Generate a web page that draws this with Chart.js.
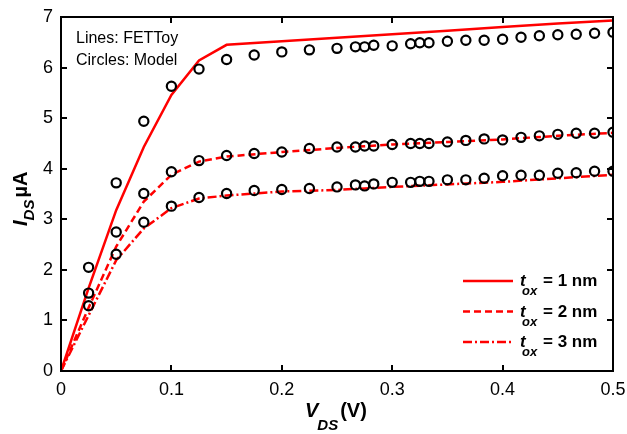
<!DOCTYPE html>
<html>
<head>
<meta charset="utf-8">
<script src="https://cdn.jsdelivr.net/npm/chart.js@4.4.1/dist/chart.umd.min.js"></script>
<style>
    html, body { margin: 0; padding: 0; background: #fff; }
    #wrap { width: 627px; height: 434px; }
</style>
</head>
<body>
<div id="wrap"><canvas id="idsChart" width="627" height="434"></canvas></div>
<script>
// FETToy curves (lines)
const vdsFet = [0, 0.025, 0.05, 0.075, 0.1, 0.125, 0.15, 0.2, 0.25, 0.3, 0.35, 0.4, 0.45, 0.5];
const fetTox1 = [0, 1.64, 3.18, 4.43, 5.46, 6.14, 6.45, 6.52, 6.59, 6.66, 6.73, 6.80, 6.87, 6.93];
const fetTox2 = [0, 1.25, 2.46, 3.35, 3.88, 4.14, 4.24, 4.33, 4.41, 4.48, 4.53, 4.58, 4.65, 4.71];
const fetTox3 = [0, 1.10, 2.19, 2.82, 3.22, 3.41, 3.47, 3.55, 3.58, 3.64, 3.69, 3.74, 3.81, 3.88];

// Model points (circles)
const vdsModel = [0.025, 0.05, 0.075, 0.1, 0.125, 0.15, 0.175, 0.2, 0.225, 0.25,
    0.2667, 0.275, 0.2833, 0.3, 0.3167, 0.325, 0.3333, 0.35, 0.3667, 0.3833,
    0.4, 0.4167, 0.4333, 0.45, 0.4667, 0.4833, 0.5];
const modelTox1 = [2.05, 3.72, 4.94, 5.63, 5.97, 6.16, 6.25, 6.31, 6.35, 6.38,
    6.41, 6.41, 6.44, 6.43, 6.47, 6.49, 6.49, 6.52, 6.54, 6.54,
    6.56, 6.60, 6.63, 6.65, 6.66, 6.68, 6.70];
const modelTox2 = [1.54, 2.75, 3.51, 3.94, 4.16, 4.26, 4.30, 4.33, 4.40, 4.43,
    4.43, 4.45, 4.45, 4.48, 4.50, 4.50, 4.50, 4.53, 4.56, 4.59,
    4.57, 4.62, 4.65, 4.68, 4.70, 4.70, 4.72];
const modelTox3 = [1.29, 2.31, 2.94, 3.26, 3.43, 3.51, 3.57, 3.59, 3.61, 3.64,
    3.68, 3.66, 3.70, 3.73, 3.73, 3.75, 3.75, 3.78, 3.78, 3.81,
    3.86, 3.87, 3.87, 3.91, 3.92, 3.95, 3.95];

const legendLabels = ['1 nm', '2 nm', '3 nm'];
const xTicks = [0, 0.1, 0.2, 0.3, 0.4, 0.5];
const yTicks = [0, 1, 2, 3, 4, 5, 6, 7];

const FONT = '"Liberation Sans", Arial, Helvetica, sans-serif';
const RED = '#ff0000';
const dashStyles = [[], [7, 4], [9, 3, 2, 3]];

function toXY(xs, ys) {
    return xs.map((x, i) => ({ x: x, y: ys[i] }));
}

function lineSet(ys, k) {
    return {
        label: 'FETToy ' + legendLabels[k],
        data: toXY(vdsFet, ys),
        showLine: true,
        borderColor: RED,
        borderWidth: 2.5,
        borderDash: dashStyles[k],
        pointRadius: 0,
        fill: false,
        tension: 0,
        order: 2
    };
}

function circleSet(ys, k) {
    return {
        label: 'Model ' + legendLabels[k],
        data: toXY(vdsModel, ys),
        showLine: false,
        pointStyle: 'circle',
        pointRadius: 4.6,
        pointBorderWidth: 2.2,
        pointBorderColor: '#000',
        pointBackgroundColor: 'rgba(0,0,0,0)',
        order: 1
    };
}

// frame, inward ticks, axis titles, notes and legend
const decorPlugin = {
    id: 'decor',
    afterDatasetsDraw(chart) {
        const ctx = chart.ctx;
        const a = chart.chartArea;
        const xs = chart.scales.x, ys = chart.scales.y;
        ctx.save();
        ctx.strokeStyle = '#000';
        ctx.lineWidth = 2;
        ctx.strokeRect(a.left, a.top, a.right - a.left, a.bottom - a.top);
        ctx.beginPath();
        xTicks.forEach(v => {
            const px = Math.round(xs.getPixelForValue(v));
            ctx.moveTo(px, a.bottom); ctx.lineTo(px, a.bottom - 6);
            ctx.moveTo(px, a.top); ctx.lineTo(px, a.top + 6);
        });
        yTicks.forEach(v => {
            const py = Math.round(ys.getPixelForValue(v));
            ctx.moveTo(a.left, py); ctx.lineTo(a.left + 6, py);
            ctx.moveTo(a.right, py); ctx.lineTo(a.right - 6, py);
        });
        ctx.stroke();

        ctx.fillStyle = '#000';
        ctx.textBaseline = 'alphabetic';
        ctx.textAlign = 'left';

        // notes
        ctx.font = '16px ' + FONT;
        ctx.fillText('Lines: FETToy', 76, 43);
        ctx.fillText('Circles: Model', 76, 65);

        // x title
        let x = 305, y = 417;
        ctx.font = 'bold italic 20px ' + FONT;
        ctx.fillText('V', x, y);
        x += ctx.measureText('V').width - 1;
        ctx.font = 'bold italic 15px ' + FONT;
        ctx.fillText('DS', x, y + 13);
        x += ctx.measureText('DS').width + 2;
        ctx.font = 'bold 20px ' + FONT;
        ctx.fillText('(V)', x, y);

        // y title
        ctx.save();
        ctx.translate(27, 226);
        ctx.rotate(-Math.PI / 2);
        x = 0;
        ctx.font = 'bold italic 20px ' + FONT;
        ctx.fillText('I', x, 0);
        x += ctx.measureText('I').width;
        ctx.font = 'bold italic 15px ' + FONT;
        ctx.fillText('DS', x, 7);
        x += ctx.measureText('DS').width + 2;
        ctx.font = 'bold 20px ' + FONT;
        ctx.fillText('\u00b5A', x, 0);
        ctx.restore();

        // legend
        legendLabels.forEach((lab, k) => {
            const ry = 281 + k * 30.5;
            ctx.save();
            ctx.strokeStyle = RED;
            ctx.lineWidth = 2.5;
            ctx.setLineDash(dashStyles[k]);
            ctx.beginPath();
            ctx.moveTo(463, ry);
            ctx.lineTo(513, ry);
            ctx.stroke();
            ctx.restore();
            let tx = 520;
            ctx.font = 'bold italic 17px ' + FONT;
            ctx.fillText('t', tx, ry + 5);
            ctx.font = 'bold italic 13px ' + FONT;
            ctx.fillText('ox', tx + 2, ry + 14);
            ctx.font = 'bold 17px ' + FONT;
            ctx.fillText('= ' + lab, tx + 23, ry + 5);
        });
        ctx.restore();
    }
};

const ctx = document.getElementById('idsChart').getContext('2d');
new Chart(ctx, {
    type: 'scatter',
    data: {
        datasets: [
            lineSet(fetTox1, 0), lineSet(fetTox2, 1), lineSet(fetTox3, 2),
            circleSet(modelTox1, 0), circleSet(modelTox2, 1), circleSet(modelTox3, 2)
        ]
    },
    options: {
        responsive: false,
        animation: false,
        layout: { padding: { top: 17, right: 14, left: 0, bottom: 0 } },
        plugins: {
            legend: { display: false },
            tooltip: { enabled: false }
        },
        scales: {
            x: {
                type: 'linear',
                min: 0, max: 0.5,
                afterFit(s) { s.height = 63; s.paddingLeft = 0; s.paddingRight = 0; },
                afterBuildTicks(s) { s.ticks = xTicks.map(v => ({ value: v })); },
                grid: { display: false, drawTicks: false },
                border: { display: false },
                ticks: {
                    padding: 8,
                    color: '#000',
                    font: { family: FONT, size: 18 },
                    maxRotation: 0,
                    callback: v => v === 0 ? '0' : v.toFixed(1)
                }
            },
            y: {
                type: 'linear',
                min: 0, max: 7,
                afterFit(s) { s.width = 61; s.paddingTop = 0; s.paddingBottom = 0; },
                afterBuildTicks(s) { s.ticks = yTicks.map(v => ({ value: v })); },
                grid: { display: false, drawTicks: false },
                border: { display: false },
                ticks: {
                    padding: 8,
                    color: '#000',
                    font: { family: FONT, size: 18 }
                }
            }
        }
    },
    plugins: [decorPlugin]
});
</script>
</body>
</html>
